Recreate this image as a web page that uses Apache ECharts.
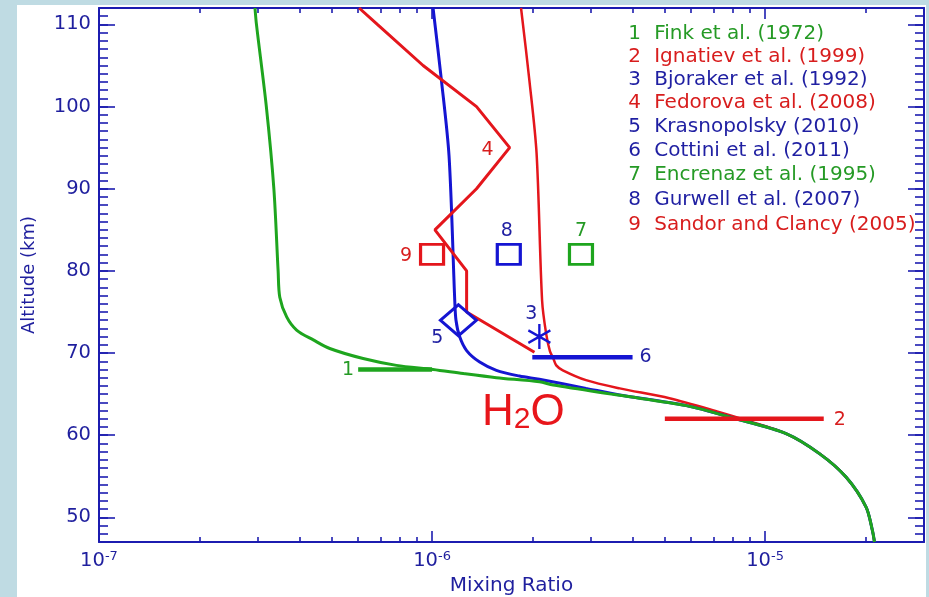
<!DOCTYPE html>
<html><head><meta charset="utf-8">
<script src="https://cdn.jsdelivr.net/npm/echarts@6/dist/echarts.min.js"></script>
<style>
html,body{margin:0;padding:0;}
body{width:929px;height:597px;background:#bfdbe3;position:relative;overflow:hidden;}
#paper{position:absolute;left:17px;top:5px;width:909px;height:592px;background:#ffffff;}
#chart{position:absolute;left:0;top:0;width:929px;height:597px;}
</style></head>
<body><div id="paper"></div><div id="chart"></div>
<script>
// ---------------- data ----------------
const X_MIN = 1e-7, X_MAX = 3e-5, Y_MIN = 47, Y_MAX = 112;
const xMajorTicks = [1e-7, 1e-6, 1e-5];
const xMinorTicks = [2e-7,3e-7,4e-7,5e-7,6e-7,7e-7,8e-7,9e-7,2e-6,3e-6,4e-6,5e-6,6e-6,7e-6,8e-6,9e-6,2e-5];
const yMajorTicks = [50,60,70,80,90,100,110];
const yMinorTicks = [];
for (let v = 48; v <= 111; v++) yMinorTicks.push(v);

// model profiles (altitude km, mixing ratio)
const greenAlt = [112,110,100,90,80,76.8,74.4,72.8,71.6,70.55,69.33,68.5,68.0,67.5,67.0,66.5,66.1,64.85,63.6,62.1,60.2,57.76,54.9,51.25,48.4,47];
const greenMix = [2.94e-7,2.97e-7,3.18e-7,3.35e-7,3.45e-7,3.49e-7,3.66e-7,3.92e-7,4.40e-7,4.93e-7,6.21e-7,7.82e-7,1.007e-6,1.24e-6,1.56e-6,2.10e-6,2.31e-6,3.66e-6,5.8e-6,8.0e-6,1.156e-5,1.456e-5,1.75e-5,2.01e-5,2.10e-5,2.13e-5];

const blueAlt = [112,103.2,93.9,76.4,74.0,72.0,70.3,68.9,67.9,67.2,66.8,65.7,64.9,63.6,62.1,60.2,57.76,54.9,51.25,48.4,47];
const blueMix = [1.007e-6,1.067e-6,1.125e-6,1.17e-6,1.18e-6,1.21e-6,1.27e-6,1.39e-6,1.56e-6,1.83e-6,2.10e-6,2.9e-6,3.66e-6,5.8e-6,8.0e-6,1.156e-5,1.456e-5,1.75e-5,2.01e-5,2.10e-5,2.13e-5];

const redAlt = [112,103.2,94.3,76.4,72.4,70.2,69.4,68.5,67.9,66.7,65.7,64.5,62.8,61.8,60.2,57.76,54.9,51.25,48.4,47];
const redMix = [1.85e-6,1.96e-6,2.06e-6,2.14e-6,2.20e-6,2.26e-6,2.31e-6,2.36e-6,2.47e-6,2.90e-6,3.66e-6,5.16e-6,7.3e-6,8.8e-6,1.156e-5,1.456e-5,1.75e-5,2.01e-5,2.10e-5,2.13e-5];

// Fedorova et al. (2008) profile
const fedAlt = [112,110,105,100,95,90,85,80,75,70.1];
const fedMix = [6.04e-7,6.85e-7,9.4e-7,1.36e-6,1.71e-6,1.36e-6,1.02e-6,1.27e-6,1.27e-6,2.03e-6];

// observations
const finkMix = [6.0e-7, 1.0e-6],  finkAlt = [68, 68];
const ignatievMix = [5.0e-6, 1.5e-5], ignatievAlt = [62, 62];
const cottiniMix = [2.0e-6, 4.0e-6], cottiniAlt = [69.5, 69.5];
const bjorakerMix = [2.1e-6], bjorakerAlt = [72];
const krasMix = [1.2e-6], krasAlt = [74];
const encrenazMix = [2.8e-6], encrenazAlt = [82];
const gurwellMix = [1.7e-6], gurwellAlt = [82];
const sandorMix = [1.0e-6], sandorAlt = [82];

const refNumbers = ['1','2','3','4','5','6','7','8','9'];
const refNames = ['Fink et al. (1972)','Ignatiev et al. (1999)','Bjoraker et al. (1992)','Fedorova et al. (2008)',
  'Krasnopolsky (2010)','Cottini et al. (2011)','Encrenaz et al. (1995)','Gurwell et al. (2007)','Sandor and Clancy (2005)'];
const h2oAnchor = [1.88e-6, 62.7];

// ---------------- styles ----------------
const AXIS = '#1c1cb0', TXT = '#1f1f9e';
const GREEN = '#1ea51e', RED = '#e4161c', BLUE = '#1515d2';
const T_GREEN = '#259a25', T_RED = '#d81d1d', T_BLUE = '#1f1fa2';
const FONT = 'DejaVu Sans';
const refTextColors = [T_GREEN,T_RED,T_BLUE,T_RED,T_BLUE,T_BLUE,T_GREEN,T_BLUE,T_RED];

const zip = (xs, ys) => xs.map((x, i) => [x, ys[i]]);

function xAxisDef(pos, major) {
  return {
    type: 'log', logBase: 10, min: X_MIN, max: X_MAX, position: pos,
    axisLine: { show: major, onZero: false, lineStyle: { color: AXIS, width: 2 } },
    axisTick: { show: true, inside: true, length: major ? 11 : 5,
      customValues: major ? xMajorTicks : xMinorTicks, lineStyle: { color: AXIS, width: 1.6 } },
    axisLabel: { show: false },
    splitLine: { show: false }, minorTick: { show: false }, minorSplitLine: { show: false }
  };
}
function yAxisDef(pos, major) {
  return {
    type: 'value', min: Y_MIN, max: Y_MAX, position: pos,
    axisLine: { show: major, onZero: false, lineStyle: { color: AXIS, width: 2 } },
    axisTick: { show: true, inside: true, length: major ? 16 : 9,
      customValues: major ? yMajorTicks : yMinorTicks, lineStyle: { color: AXIS, width: 1.6 } },
    axisLabel: { show: false },
    splitLine: { show: false }, minorTick: { show: false }
  };
}

const xAxes = [xAxisDef('bottom', true), xAxisDef('bottom', false), xAxisDef('top', true), xAxisDef('top', false)];
xAxes[0].axisLabel = {
  show: true, customValues: xMajorTicks, margin: 8,
  formatter: v => '{b|10}{s|' + Math.round(Math.log10(v)) + '}',
  rich: {
    b: { fontFamily: FONT, fontSize: 19.5, lineHeight: 22, color: TXT },
    s: { fontFamily: FONT, fontSize: 13, lineHeight: 12, verticalAlign: 'top', color: TXT }
  }
};
xAxes[0].name = 'Mixing Ratio';
xAxes[0].nameLocation = 'middle';
xAxes[0].nameGap = 33;
xAxes[0].nameTextStyle = { fontFamily: FONT, fontSize: 20, color: TXT };

const yAxes = [yAxisDef('left', true), yAxisDef('left', false), yAxisDef('right', true), yAxisDef('right', false)];
yAxes[0].axisLabel = { show: true, customValues: yMajorTicks, margin: 8, fontFamily: FONT, fontSize: 19.5, color: TXT };
yAxes[0].name = 'Altitude (km)';
yAxes[0].nameLocation = 'middle';
yAxes[0].nameGap = 61;
yAxes[0].nameTextStyle = { fontFamily: FONT, fontSize: 18, color: TXT };

const lbl = (text, color, offset) => ({ show: true, position: 'inside', offset: offset, formatter: text,
  fontFamily: FONT, fontSize: 19, color: color, opacity: 1 });

function segment(name, xs, ys, color, labelIdx, text, tcolor, offset) {
  const data = zip(xs, ys).map((p, i) => i === labelIdx ? { value: p, label: lbl(text, tcolor, offset) } : p);
  return { type: 'line', name: name, data: data, showSymbol: true, symbol: 'circle', symbolSize: 0,
    lineStyle: { color: color, width: 4.5 }, itemStyle: { color: color }, label: { show: false },
    emphasis: { disabled: true }, silent: true, z: 4, animation: false };
}
function marker(name, xs, ys, symbol, size, color, bw, text, tcolor, offset) {
  return { type: 'scatter', name: name, data: zip(xs, ys).map(p => ({ value: p, label: lbl(text, tcolor, offset) })),
    symbol: symbol, symbolSize: size,
    itemStyle: { color: 'rgba(0,0,0,0)', borderColor: color, borderWidth: bw, opacity: 1 },
    emphasis: { disabled: true }, silent: true, z: 5, animation: false };
}
const profile = (name, xs, ys, color, width) => ({
  type: 'line', name: name, data: zip(xs, ys), showSymbol: false, smooth: 0.3,
  lineStyle: { color: color, width: width }, itemStyle: { color: color },
  emphasis: { disabled: true }, silent: true, z: 2, animation: false
});

const fedData = zip(fedMix, fedAlt).map((p, i) => fedAlt[i] === 95 ? { value: p, label: lbl('4', T_RED, [-22, 2]) } : p);

const series = [
  profile('Profile (red)', redMix, redAlt, RED, 2.5),
  profile('Profile (blue)', blueMix, blueAlt, BLUE, 3),
  profile('Profile (green)', greenMix, greenAlt, GREEN, 3),
  { type: 'line', name: refNames[3], data: fedData, showSymbol: true, symbol: 'circle', symbolSize: 0,
    lineStyle: { color: RED, width: 3 }, itemStyle: { color: RED }, emphasis: { disabled: true },
    silent: true, z: 3, animation: false },
  segment(refNames[0], finkMix, finkAlt, GREEN, 0, '1', T_GREEN, [-10, 1]),
  segment(refNames[1], ignatievMix, ignatievAlt, RED, 1, '2', T_RED, [16, 1]),
  segment(refNames[5], cottiniMix, cottiniAlt, BLUE, 1, '6', T_BLUE, [13, 0]),
  marker(refNames[2], bjorakerMix, bjorakerAlt, 'path://M0 -12 L0 12 M-10.4 -6 L10.4 6 M-10.4 6 L10.4 -6', [22, 25], BLUE, 2.5, '3', T_BLUE, [-8, -23]),
  marker(refNames[4], krasMix, krasAlt, 'diamond', [36, 31], BLUE, 3, '5', T_BLUE, [-21, 18]),
  marker(refNames[6], encrenazMix, encrenazAlt, 'rect', [23, 20], GREEN, 3, '7', T_GREEN, [0, -23]),
  marker(refNames[7], gurwellMix, gurwellAlt, 'rect', [23, 20], BLUE, 3, '8', T_BLUE, [-2, -23]),
  marker(refNames[8], sandorMix, sandorAlt, 'rect', [23, 20], RED, 3, '9', T_RED, [-26, 2]),
  { type: 'scatter', name: 'H2O', data: [h2oAnchor], symbolSize: 0, silent: true, z: 6, animation: false,
    itemStyle: { opacity: 1, color: RED },
    label: { show: true, position: 'inside', formatter: '{h|H}{s|2}{h|O}', opacity: 1,
      rich: { h: { fontFamily: 'Liberation Sans', fontSize: 44, lineHeight: 44, color: '#e8161b', opacity: 1 },
              s: { fontFamily: 'Liberation Sans', fontSize: 30, lineHeight: 20, verticalAlign: 'bottom', color: '#e8161b', opacity: 1 } } } }
];

const chart = echarts.init(document.getElementById('chart'), null, { renderer: 'canvas' });
chart.setOption({
  backgroundColor: 'transparent',
  animation: false,
  grid: { left: 99, right: 5, top: 8, bottom: 55, containLabel: false, outerBoundsMode: 'none' },
  xAxis: xAxes,
  yAxis: yAxes,
  legend: {
    orient: 'vertical', left: 614, top: 22, padding: 0, itemGap: 0, itemWidth: 0, itemHeight: 23,
    selectedMode: false,
    itemStyle: { opacity: 0 }, lineStyle: { opacity: 0 },
    textStyle: { fontFamily: FONT, fontSize: 20, lineHeight: 23,
      rich: { n: { width: 26, fontFamily: FONT, fontSize: 20, lineHeight: 23 } } },
    formatter: name => '{n|' + refNumbers[refNames.indexOf(name)] + '}' + name,
    data: refNames.map((n, i) => ({ name: n, textStyle: { color: refTextColors[i] } }))
  },
  series: series
});
</script></body></html>
